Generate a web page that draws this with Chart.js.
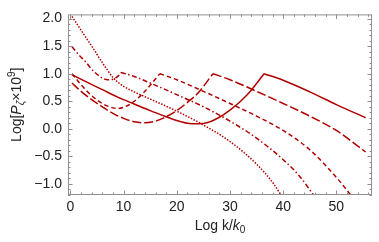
<!DOCTYPE html>
<html>
<head>
<meta charset="utf-8">
<script src="https://cdn.jsdelivr.net/npm/chart.js@4.4.1/dist/chart.umd.min.js"></script>
<style>
  html, body { margin: 0; padding: 0; background: #fff; }
</style>
</head>
<body>
<canvas id="chart" width="379" height="242"></canvas>
<script>
// tick labels
const xTickLabels = [0, 10, 20, 30, 40, 50]
const yTickLabels = [-1.0, -0.5, 0.0, 0.5, 1.0, 1.5, 2.0]

// curves (x = Log k/k0, y = Log[P x 10^9])
const dottedX = [0.3, 2, 4, 6, 7, 8, 9, 10, 12, 15, 20, 25, 30, 35, 38, 39.6, 40.1]
const dottedY = [2.04, 1.79, 1.5, 1.2, 1.06, 0.93, 0.84, 0.77, 0.67, 0.54, 0.32, 0.07, -0.23, -0.64, -0.97, -1.2, -1.27]

const dashDotX = [0.3, 1.5, 3, 4, 5, 6, 7, 8, 9, 9.5, 12, 15, 20, 25, 30, 35, 40, 43, 45.7, 46.2]
const dashDotY = [1.49, 1.35, 1.2, 1.08, 0.99, 0.92, 0.89, 0.9, 0.96, 1.02, 0.95, 0.83, 0.62, 0.4, 0.14, -0.17, -0.56, -0.85, -1.2, -1.27]

const dashedX = [0.3, 2, 4, 6, 8, 9, 10, 12, 14, 15, 16.8, 20, 25, 30, 35, 40, 45, 50, 52.7, 53.2]
const dashedY = [1.0, 0.8, 0.6, 0.46, 0.38, 0.37, 0.39, 0.5, 0.68, 0.79, 1.0, 0.89, 0.68, 0.46, 0.23, -0.03, -0.38, -0.88, -1.2, -1.26]

const longDashX = [0.3, 2, 4, 6, 8, 10, 12, 14, 16, 18, 20, 22, 24, 26.8, 30, 35, 40, 45, 50, 55.5]
const longDashY = [0.83, 0.68, 0.53, 0.4, 0.28, 0.19, 0.13, 0.11, 0.14, 0.22, 0.33, 0.48, 0.65, 1.0, 0.89, 0.68, 0.46, 0.23, -0.03, -0.42]

const solidX = [0.3, 3, 6, 9, 12, 15, 18, 20, 22, 24, 26, 28, 30, 32, 34, 36.4, 40, 45, 50, 55.5]
const solidY = [0.98, 0.85, 0.71, 0.57, 0.45, 0.33, 0.22, 0.15, 0.1, 0.09, 0.12, 0.21, 0.34, 0.5, 0.7, 1.0, 0.88, 0.67, 0.44, 0.2]

const red = '#b00000'
const font = "'Liberation Sans', Arial, sans-serif"

// split a curve at its cusp so the peak stays sharp
function segments(xs, ys) {
  const pts = xs.map((x, i) => ({x: x, y: ys[i]}))
  const peak = ys.findIndex((y, i) => i > 0 && i < ys.length - 1 && y > ys[i - 1] && y > ys[i + 1])
  return peak < 0 ? [pts] : [pts.slice(0, peak + 1), pts.slice(peak)]
}

const curves = [
  {xs: dottedX, ys: dottedY, dash: [1.5, 1.5]},
  {xs: dashDotX, ys: dashDotY, dash: [5, 2.5, 1.5, 2.5]},
  {xs: dashedX, ys: dashedY, dash: [4.5, 3]},
  {xs: longDashX, ys: longDashY, dash: [9, 3]},
  {xs: solidX, ys: solidY, dash: []},
]

const datasets = []
curves.forEach(c => {
  segments(c.xs, c.ys).forEach(seg => {
    datasets.push({
      data: seg,
      borderColor: red,
      borderWidth: 1.5,
      borderDash: c.dash,
      pointRadius: 0,
      fill: false,
      cubicInterpolationMode: 'monotone',
    })
  })
})

function fmt(v) {
  return v.toFixed(1).replace('-', '\u2212')
}

// write a run of text pieces (italic, sub/superscripts) centred on x
function richText(ctx, parts, cx, baseline) {
  let total = 0
  parts.forEach(p => { ctx.font = p.font; total += ctx.measureText(p.t).width })
  let x = cx - total / 2
  parts.forEach(p => {
    ctx.font = p.font
    ctx.fillText(p.t, x, baseline + (p.dy || 0))
    x += ctx.measureText(p.t).width
  })
}

const frame = {
  id: 'frame',
  afterDatasetsDraw(chart) {
    const {ctx, chartArea: a, scales: {x, y}} = chart
    ctx.save()
    ctx.strokeStyle = '#909090'
    ctx.lineWidth = 1
    ctx.strokeRect(a.left + 0.5, a.top + 0.5, a.right - a.left - 1, a.bottom - a.top - 1)

    ctx.beginPath()
    for (let v = 0; v <= 56; v += 2) {
      const len = v % 10 === 0 ? 4.5 : 2.5
      const px = Math.round(x.getPixelForValue(v)) + 0.5
      ctx.moveTo(px, a.bottom); ctx.lineTo(px, a.bottom - len)
      ctx.moveTo(px, a.top); ctx.lineTo(px, a.top + len)
    }
    for (let i = -12; i <= 20; i++) {
      const len = i % 5 === 0 ? 4.5 : 2.5
      const py = Math.round(y.getPixelForValue(i / 10)) + 0.5
      ctx.moveTo(a.left, py); ctx.lineTo(a.left + len, py)
      ctx.moveTo(a.right, py); ctx.lineTo(a.right - len, py)
    }
    ctx.stroke()
    ctx.restore()
  },
  afterDraw(chart) {
    const {ctx, chartArea: a} = chart
    const n = '14px ' + font
    const it = 'italic 14px ' + font
    const sm = '10px ' + font
    const smIt = 'italic 10px ' + font
    ctx.save()
    ctx.fillStyle = '#222'
    ctx.textBaseline = 'alphabetic'
    ctx.textAlign = 'left'
    richText(ctx, [
      {t: 'Log k/', font: n},
      {t: 'k', font: it},
      {t: '0', font: sm, dy: 3},
    ], (a.left + a.right) / 2, 230)

    ctx.translate(21, (a.top + a.bottom) / 2)
    ctx.rotate(-Math.PI / 2)
    richText(ctx, [
      {t: 'Log[', font: n},
      {t: 'P', font: it},
      {t: '\u03b6', font: smIt, dy: 3},
      {t: '\u00d710', font: n},
      {t: '9', font: sm, dy: -6},
      {t: ']', font: n},
    ], 0, 0)
    ctx.restore()
  }
}

new Chart(document.getElementById('chart'), {
  type: 'line',
  data: {datasets: datasets},
  options: {
    responsive: false,
    animation: false,
    events: [],
    layout: {padding: {top: 9, right: 7, left: 0, bottom: 0}},
    plugins: {legend: {display: false}, tooltip: {enabled: false}},
    scales: {
      x: {
        type: 'linear',
        min: -0.45,
        max: 56.7,
        grid: {display: false, drawTicks: false},
        border: {display: false},
        afterBuildTicks: s => { s.ticks = xTickLabels.map(v => ({value: v})) },
        afterFit: s => { s.height = 47 },
        ticks: {
          padding: 4,
          color: '#222',
          font: {family: font, size: 14},
          maxRotation: 0,
          callback: v => String(v),
        },
      },
      y: {
        type: 'linear',
        min: -1.2,
        max: 2.075,
        grid: {display: false, drawTicks: false},
        border: {display: false},
        afterBuildTicks: s => { s.ticks = yTickLabels.map(v => ({value: v})) },
        afterFit: s => { s.width = 68 },
        ticks: {
          padding: 6,
          color: '#222',
          font: {family: font, size: 14},
          callback: v => fmt(v),
        },
      },
    },
  },
  plugins: [frame],
})
</script>
</body>
</html>
